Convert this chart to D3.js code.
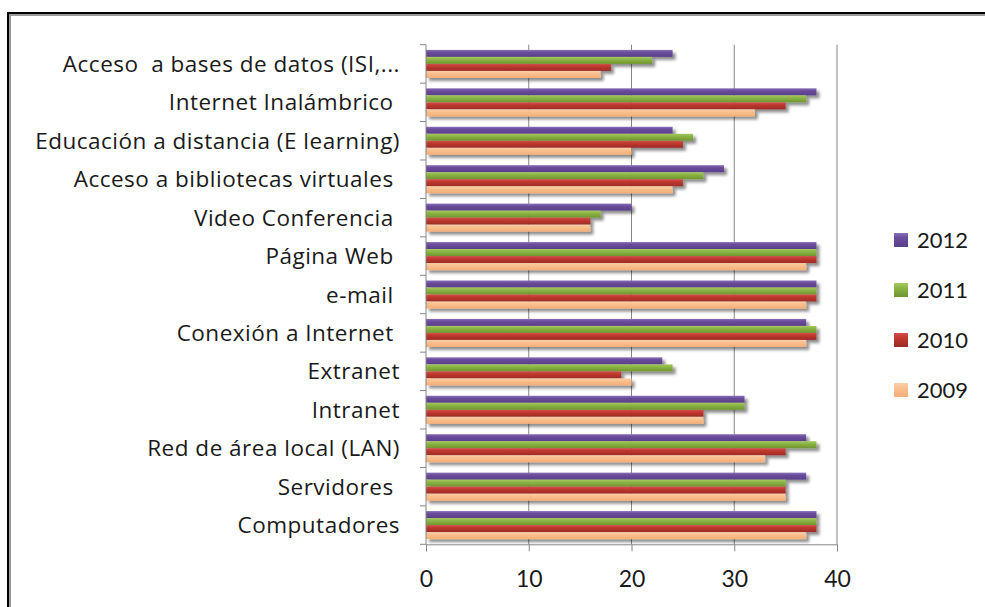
<!DOCTYPE html>
<html>
<head>
<meta charset="utf-8">
<script src="https://cdn.jsdelivr.net/npm/d3@7"></script>
<style>
  html, body { margin: 0; padding: 0; background: #fff; }
  svg { display: block; }
  text { font-family: Lato, "Open Sans", sans-serif; fill: #1a1a1a; }
</style>
</head>
<body>
<svg id="chart" width="985" height="607"></svg>
<script>
// Categories, top to bottom
const categories = [
  "Acceso  a bases de datos (ISI,...",
  "Internet Inalámbrico ",
  "Educación a distancia (E learning)",
  "Acceso a bibliotecas virtuales ",
  "Video Conferencia ",
  "Página Web ",
  "e-mail ",
  "Conexión a Internet ",
  "Extranet",
  "Intranet",
  "Red de área local (LAN)",
  "Servidores ",
  "Computadores"
];

// Series, in the order they are stacked inside each group
const years = ["2012", "2011", "2010", "2009"];
const values2012 = [24, 38, 24, 29, 20, 38, 38, 37, 23, 31, 37, 37, 38];
const values2011 = [22, 37, 26, 27, 17, 38, 38, 38, 24, 31, 38, 35, 38];
const values2010 = [18, 35, 25, 25, 16, 38, 38, 38, 19, 27, 35, 35, 38];
const values2009 = [17, 32, 20, 24, 16, 37, 37, 37, 20, 27, 33, 35, 37];
const xTicks = [0, 10, 20, 30, 40];

const seriesValues = [values2012, values2011, values2010, values2009];
const colors = {
  "2012": ["#8a70b8", "#6a4c9c", "#5a3f88"],
  "2011": ["#a6ca62", "#8cb545", "#6f9530"],
  "2010": ["#d2504c", "#c0392f", "#9c2b25"],
  "2009": ["#fcd0a8", "#fac090", "#f4ae76"]
};

const svg = d3.select("#chart");

// Outer frame
svg.append("path").attr("d", "M10,607V15H985").attr("fill", "none")
  .attr("stroke", "#9a9a9a").attr("stroke-width", 2);
svg.append("path").attr("d", "M8,607V13H985").attr("fill", "none")
  .attr("stroke", "#000").attr("stroke-width", 2);

const defs = svg.append("defs");
years.forEach(y => {
  const g = defs.append("linearGradient").attr("id", "grad" + y)
    .attr("x1", 0).attr("y1", 0).attr("x2", 0).attr("y2", 1);
  g.append("stop").attr("offset", "0%").attr("stop-color", colors[y][0]);
  g.append("stop").attr("offset", "35%").attr("stop-color", colors[y][1]);
  g.append("stop").attr("offset", "100%").attr("stop-color", colors[y][2]);
});
const f = defs.append("filter").attr("id", "shadow")
  .attr("x", "-5%").attr("y", "-50%").attr("width", "115%").attr("height", "250%");
f.append("feGaussianBlur").attr("in", "SourceAlpha").attr("stdDeviation", 1.6).attr("result", "b");
f.append("feOffset").attr("in", "b").attr("dx", 2.5).attr("dy", 2.5).attr("result", "o");
f.append("feComponentTransfer").attr("in", "o").attr("result", "s")
  .append("feFuncA").attr("type", "linear").attr("slope", 0.45);
const fm = f.append("feMerge");
fm.append("feMergeNode").attr("in", "s");
fm.append("feMergeNode").attr("in", "SourceGraphic");

const plot = { left: 426, right: 837, top: 44.7, bottom: 544.3 };

const x = d3.scaleLinear().domain([0, 40]).range([plot.left, plot.right]);
const y = d3.scaleBand().domain(categories).range([plot.top, plot.bottom])
  .paddingInner(0.27).paddingOuter(0.135);
const yInner = d3.scaleBand().domain(years).range([0, y.bandwidth()]);
const band = (plot.bottom - plot.top) / categories.length;

// Vertical gridlines
svg.append("g").selectAll("line").data(xTicks.slice(1)).join("line")
  .attr("x1", d => x(d)).attr("x2", d => x(d))
  .attr("y1", plot.top).attr("y2", plot.bottom)
  .attr("stroke", "#868686").attr("stroke-width", 1);

// Bars
const groups = svg.append("g").selectAll("g").data(categories).join("g")
  .attr("transform", c => `translate(0,${y(c)})`);
groups.selectAll("rect")
  .data((c, i) => years.map((yr, k) => ({ yr, v: seriesValues[k][i] })))
  .join("rect")
  .attr("x", x(0))
  .attr("y", d => yInner(d.yr))
  .attr("width", d => x(d.v) - x(0))
  .attr("height", yInner.bandwidth())
  .attr("fill", d => `url(#grad${d.yr})`)
  .attr("filter", "url(#shadow)");

// Category axis (ticks between categories)
const yAxisG = svg.append("g");
yAxisG.append("line").attr("x1", plot.left).attr("x2", plot.left)
  .attr("y1", plot.top).attr("y2", plot.bottom).attr("stroke", "#868686");
yAxisG.selectAll("line.t").data(d3.range(categories.length + 1)).join("line")
  .attr("class", "t")
  .attr("x1", plot.left - 6).attr("x2", plot.left)
  .attr("y1", i => plot.top + i * band).attr("y2", i => plot.top + i * band)
  .attr("stroke", "#868686");
yAxisG.selectAll("text").data(categories).join("text")
  .attr("x", 400).attr("y", c => y(c) + y.bandwidth() / 2)
  .attr("dy", "0.36em").attr("text-anchor", "end")
  .style("white-space", "pre").style("font-size", "22.5px")
  .style("letter-spacing", "0.5px")
  .style("font-family", "'Open Sans', Lato, sans-serif")
  .text(c => c);

// Value axis
const xAxis = d3.axisBottom(x).tickValues(xTicks).tickSize(7).tickPadding(19);
const xAxisG = svg.append("g").attr("transform", `translate(0,${plot.bottom})`).call(xAxis);
xAxisG.select(".domain").attr("stroke", "#868686");
xAxisG.selectAll(".tick line").attr("stroke", "#868686");
xAxisG.selectAll(".tick text").style("font-size", "23px").attr("fill", "#1a1a1a")
  .style("font-family", "Lato, 'Open Sans', sans-serif");

// Legend
const legend = svg.append("g").selectAll("g").data(years).join("g")
  .attr("transform", (d, i) => `translate(894,${240 + i * 50})`);
legend.append("rect").attr("x", 0).attr("y", -7).attr("width", 14).attr("height", 14)
  .attr("fill", d => `url(#grad${d})`);
legend.append("text").attr("x", 23).attr("y", 0).attr("dy", "0.36em")
  .style("font-size", "22px").text(d => d);
</script>
</body>
</html>
